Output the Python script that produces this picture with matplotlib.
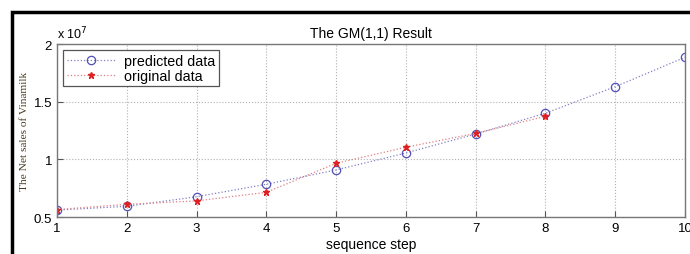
import numpy as np
import matplotlib.pyplot as plt
from matplotlib.patches import Rectangle

# values (units of 1e7)
steps_pred = [1, 2, 3, 4, 5, 6, 7, 8, 9, 10]
predicted = [0.56, 0.593, 0.676, 0.784, 0.908, 1.055, 1.22, 1.40, 1.63, 1.885]
steps_orig = [1, 2, 3, 4, 5, 6, 7, 8]
original = [0.565, 0.61, 0.64, 0.714, 0.966, 1.105, 1.225, 1.373]

plt.rcParams['font.family'] = ['Liberation Sans', 'DejaVu Sans']

fig = plt.figure(figsize=(6.9, 2.55), dpi=100)
ax = fig.add_axes([0.0826, 0.145, 0.9102, 0.6785])

ax.plot(steps_pred, np.array(predicted) * 1e7, linestyle=':', color='#8080c8', linewidth=0.9,
        marker='o', markersize=6, markerfacecolor='none', markeredgecolor='#5050b8',
        markeredgewidth=0.9, label='predicted data')
ax.plot(steps_orig, np.array(original) * 1e7, linestyle=':', color='#e08080', linewidth=0.9,
        marker='*', markersize=5, markerfacecolor='#e02020', markeredgecolor='#e02020',
        label='original data')

ax.set_xlim(1, 10)
ax.set_ylim(0.5e7, 2e7)
ax.set_xticks(range(1, 11))
ax.set_yticks([0.5e7, 1e7, 1.5e7, 2e7])
ax.set_yticklabels(['0.5', '1', '1.5', '2'])
ax.tick_params(direction='in', labelsize=9.5, length=4, color='#555555')
ax.grid(True, linestyle=':', color='#b0b0b0', linewidth=0.8)
for s in ax.spines.values():
    s.set_color('#777777')
    s.set_linewidth(1.0)

ax.text(0.0, 1.015, r'x 10$^7$', transform=ax.transAxes, fontsize=9, ha='left', va='bottom')
ax.set_title('The GM(1,1) Result', fontsize=10, pad=5)
ax.set_xlabel('sequence step', fontsize=10, labelpad=2)
ax.set_ylabel('The Net sales of Vinamilk', fontsize=8.2, family='Liberation Serif',
              color='#4a3a20')
ax.yaxis.set_label_coords(-0.045, 0.5)

leg = ax.legend(loc='upper left', fontsize=10.3, fancybox=False, framealpha=1,
                edgecolor='#555555', borderaxespad=0.45, handlelength=3.4,
                borderpad=0.25, labelspacing=0.05, handletextpad=0.6)
leg.get_frame().set_linewidth(0.9)

# thick black frame round the picture (right and bottom edges fall outside)
fig.patches.append(Rectangle((12 / 690, -0.05), 1.0, 1.05 - 13 / 255,
                             transform=fig.transFigure, fill=False,
                             edgecolor='black', linewidth=2.5))

plt.savefig('out.png', dpi=100)
